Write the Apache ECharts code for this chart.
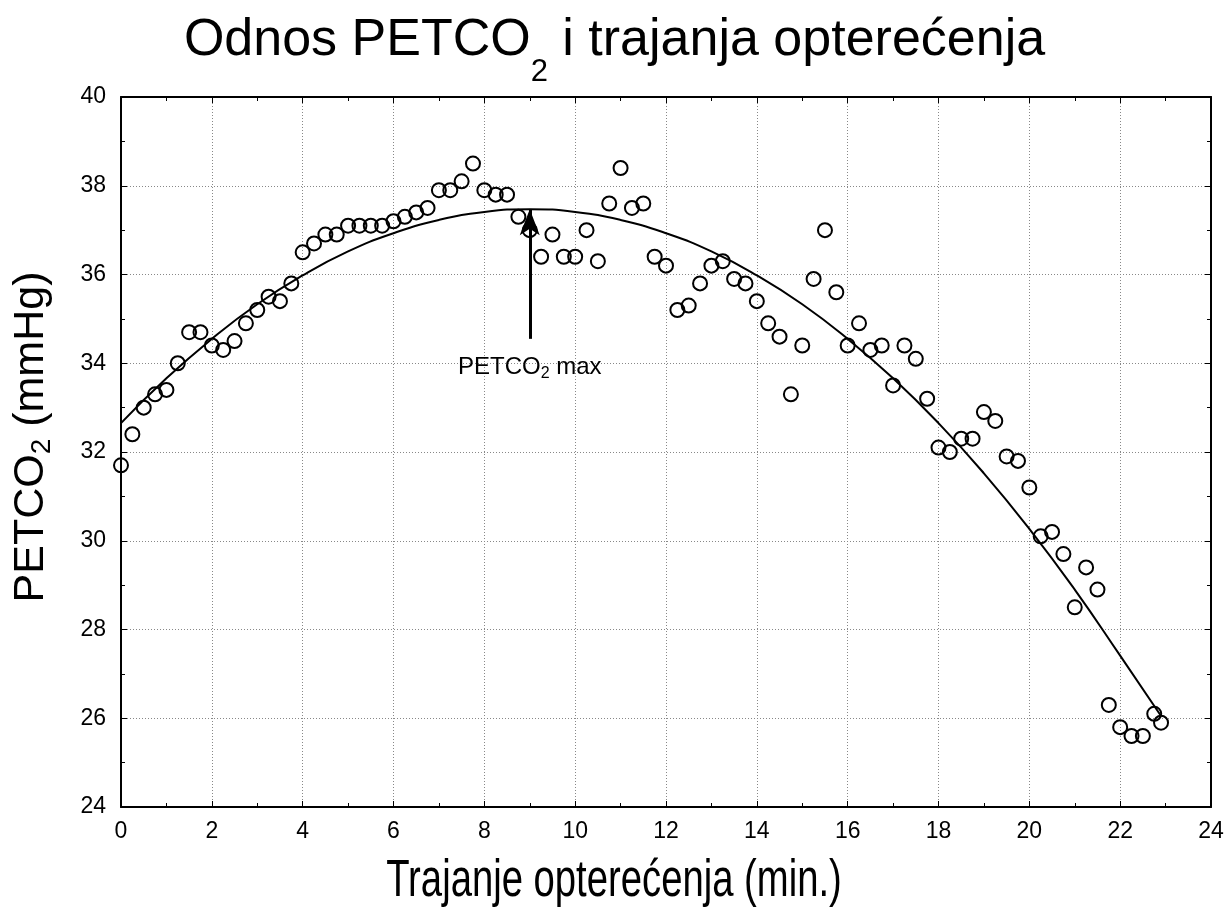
<!DOCTYPE html>
<html>
<head>
<meta charset="utf-8">
<script src="https://cdn.jsdelivr.net/npm/echarts@6/dist/echarts.min.js"></script>
<style>
html,body{margin:0;padding:0;background:#fff;}
#main{width:1229px;height:915px;}
</style>
</head>
<body>
<div id="main"></div>
<script>
// measurements every 15 s (minutes)
var minutes = [0,0.25,0.5,0.75,1,1.25,1.5,1.75,2,2.25,2.5,2.75,3,3.25,3.5,3.75,
    4,4.25,4.5,4.75,5,5.25,5.5,5.75,6,6.25,6.5,6.75,7,7.25,7.5,7.75,
    8,8.25,8.5,8.75,9,9.25,9.5,9.75,10,10.25,10.5,10.75,11,11.25,11.5,11.75,
    12,12.25,12.5,12.75,13,13.25,13.5,13.75,14,14.25,14.5,14.75,15,15.25,15.5,15.75,
    16,16.25,16.5,16.75,17,17.25,17.5,17.75,18,18.25,18.5,18.75,19,19.25,19.5,19.75,
    20,20.25,20.5,20.75,21,21.25,21.5,21.75,22,22.25,22.5,22.75,22.9];
var petco2 = [31.7,32.4,33.0,33.3,33.4,34.0,34.7,34.7,34.4,34.3,34.5,34.9,35.2,35.5,35.4,35.8,
    36.5,36.7,36.9,36.9,37.1,37.1,37.1,37.1,37.2,37.3,37.4,37.5,37.9,37.9,38.1,38.5,
    37.9,37.8,37.8,37.3,37.0,36.4,36.9,36.4,36.4,37.0,36.3,37.6,38.4,37.5,37.6,36.4,
    36.2,35.2,35.3,35.8,36.2,36.3,35.9,35.8,35.4,34.9,34.6,33.3,34.4,35.9,37.0,35.6,
    34.4,34.9,34.3,34.4,33.5,34.4,34.1,33.2,32.1,32.0,32.3,32.3,32.9,32.7,31.9,31.8,
    31.2,30.1,30.2,29.7,28.5,29.4,28.9,26.3,25.8,25.6,25.6,26.1,25.9];

// fitted curve
var fitX = [0,1,2,3,4,5,6,7,8,9,10,11,12,13,14,15,16,17,18,19,20,21,22,22.9];
var fitY = [32.65,33.66,34.55,35.33,35.98,36.52,36.93,37.23,37.41,37.47,37.41,37.23,
    36.93,36.52,35.98,35.33,34.55,33.66,32.65,31.52,30.27,28.90,27.41,26.05];

// arrow marking the maximum
var arrowX = 9;
var arrowFrom = 34.55;
var arrowTo = 37.47;
var arrowLabelY = 33.9;

var myChart = echarts.init(document.getElementById('main'));

var pts = minutes.map(function (m, i) { return [m, petco2[i]]; });
var fit = fitX.map(function (m, i) { return [m, fitY[i]]; });

var font = '"Liberation Sans", Arial, sans-serif';
var gridLine = {show: true, lineStyle: {color: '#888', type: [1, 2], width: 1}};
var axisLine = {show: true, onZero: false, lineStyle: {color: '#000', width: 2}};
var tick = {show: true, inside: true, length: 6, lineStyle: {color: '#000', width: 1}};
var minor = {show: true, splitNumber: 2, length: 4, lineStyle: {color: '#000'}};

var option = {
    backgroundColor: '#fff',
    animation: false,
    title: {
        text: 'Odnos PETCO{sub|2} i trajanja opterećenja',
        left: 'center',
        top: -12,
        textStyle: {
            fontFamily: font, fontSize: 52, fontWeight: 'normal', color: '#000',
            rich: {
                sub: {fontFamily: font, fontSize: 31, color: '#000', padding: [64, 0, 0, 0]}
            }
        }
    },
    graphic: [{
        type: 'text',
        x: 614, y: 882,
        scaleX: 0.75,
        style: {
            text: 'Trajanje opterećenja (min.)',
            fontFamily: font, fontSize: 51, fill: '#000',
            align: 'center', verticalAlign: 'middle'
        }
    }, {
        type: 'text',
        x: 31, y: 437,
        rotation: Math.PI / 2,
        style: {
            text: 'PETCO{sub|2} (mmHg)',
            fontFamily: font, fontSize: 43, fill: '#000',
            align: 'center', verticalAlign: 'middle',
            rich: {sub: {fontFamily: font, fontSize: 28, fill: '#000', padding: [22, 0, 0, 0]}}
        }
    }],
    grid: {left: 121, right: 18, top: 97, bottom: 108},
    xAxis: [{
        type: 'value', min: 0, max: 24, interval: 2,
        axisLine: axisLine,
        axisTick: tick,
        minorTick: minor,
        axisLabel: {fontFamily: font, fontSize: 23, color: '#000', margin: 13},
        splitLine: gridLine
    }, {
        type: 'value', min: 0, max: 24, interval: 2, position: 'top',
        axisLine: axisLine,
        axisTick: tick,
        minorTick: minor,
        axisLabel: {show: false},
        splitLine: {show: false}
    }],
    yAxis: [{
        type: 'value', min: 24, max: 40, interval: 2,
        axisLine: axisLine,
        axisTick: tick,
        minorTick: minor,
        axisLabel: {fontFamily: font, fontSize: 23, color: '#000', margin: 15},
        splitLine: gridLine
    }, {
        type: 'value', min: 24, max: 40, interval: 2, position: 'right',
        axisLine: axisLine,
        axisTick: tick,
        minorTick: minor,
        axisLabel: {show: false},
        splitLine: {show: false}
    }],
    series: [{
        name: 'fit',
        type: 'line',
        data: fit,
        smooth: true,
        showSymbol: false,
        lineStyle: {color: '#000', width: 2},
        z: 2
    }, {
        name: 'PETCO2',
        type: 'scatter',
        data: pts,
        symbol: 'circle',
        symbolSize: 14,
        itemStyle: {color: 'rgba(255,255,255,0)', borderColor: '#000', borderWidth: 2, opacity: 1},
        z: 3,
        markLine: {
            silent: true,
            symbol: ['none', 'arrow'],
            symbolSize: [15, 26],
            lineStyle: {color: '#000', width: 3, type: 'solid', opacity: 1},
            label: {show: false},
            data: [[{coord: [arrowX, arrowFrom]}, {coord: [arrowX, arrowTo]}]]
        }
    }, {
        name: 'label',
        type: 'scatter',
        data: [[arrowX, arrowLabelY]],
        symbolSize: 0,
        itemStyle: {opacity: 1},
        label: {
            show: true, position: 'inside',
            formatter: 'PETCO{sub|2} max',
            fontFamily: font, fontSize: 24, color: '#000',
            rich: {sub: {fontFamily: font, fontSize: 16, color: '#000', padding: [12, 0, 0, 0]}}
        },
        z: 4
    }]
};
myChart.setOption(option, true);
</script>
</body>
</html>
